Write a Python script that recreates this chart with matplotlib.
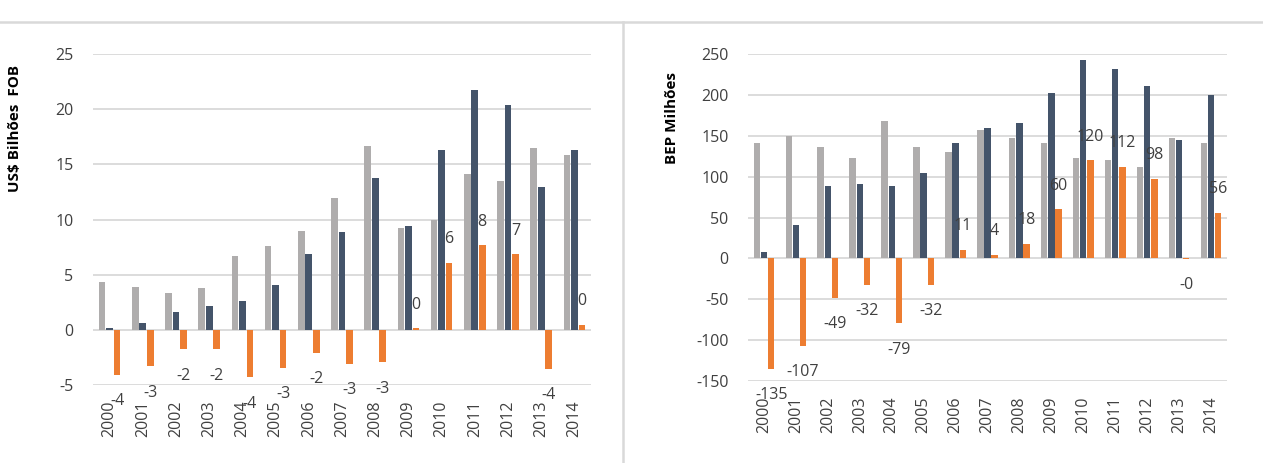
import matplotlib
matplotlib.use("Agg")
import matplotlib.pyplot as plt
from matplotlib.lines import Line2D
import numpy as np

plt.rcParams['font.family'] = ['Open Sans', 'DejaVu Sans']
plt.rcParams['axes.unicode_minus'] = False

years = [str(y) for y in range(2000, 2015)]

# Left panel (US$ Bilhões FOB)
left_gray = [4.3, 3.9, 3.3, 3.75, 6.65, 7.6, 9.0, 11.94, 16.65, 9.19, 9.98, 14.1, 13.5, 16.47, 15.87]
left_blue = [0.2, 0.65, 1.6, 2.2, 2.57, 4.1, 6.86, 8.86, 13.72, 9.4, 16.26, 21.77, 20.37, 12.94, 16.26]
left_orange = [-4.08, -3.3, -1.75, -1.75, -4.3, -3.45, -2.1, -3.08, -2.93, 0.15, 6.08, 7.65, 6.86, -3.55, 0.45]
left_yticks = [-5, 0, 5, 10, 15, 20, 25]
left_ylabel = "US$ Bilhões  FOB"

# Right panel (BEP Milhões)
right_gray = [140.8, 149.4, 136, 122.9, 168.2, 136, 130.6, 157.6, 147, 141, 123, 120, 112, 147, 141]
right_blue = [7.3, 41.2, 89, 91.4, 89, 104.5, 141, 160, 165.7, 202.4, 242.4, 231.4, 210.6, 144.5, 200]
right_orange = [-135.3, -106.6, -48.6, -32.3, -79.4, -32.4, 10.6, 4, 17.6, 60, 120.2, 112, 97.6, -0.3, 55.6]
right_yticks = [-150, -100, -50, 0, 50, 100, 150, 200, 250]
right_ylabel = "BEP Milhões"

GRAY = "#AFADAD"
BLUE = "#44546A"
ORANGE = "#ED7D31"
GRID = "#D9D9D9"
TXT = "#404040"

W, H = 1263, 463
fig = plt.figure(figsize=(W / 100, H / 100), dpi=100)


def px_axes(x0, x1, ytop, ybot):
    return fig.add_axes([x0 / W, (H - ybot) / H, (x1 - x0) / W, (ybot - ytop) / H])


def draw(ax, gray, blue, orange, yticks):
    x = np.arange(len(years))
    bw = 0.2
    off = 0.225
    ax.bar(x - off, gray, bw, color=GRAY, zorder=3)
    ax.bar(x, blue, bw, color=BLUE, zorder=3)
    ax.bar(x + off, orange, bw, color=ORANGE, zorder=3)
    for xi, v in zip(x, orange):
        dy = 17 if v >= 0 else -19
        ax.annotate(f"{v:.0f}", (xi + off, v), xytext=(0, dy), textcoords="offset points",
                    ha="center", va="center", fontsize=11.5, color=TXT, zorder=5)
    ax.set_xlim(-0.5, len(years) - 0.5)
    ax.set_ylim(yticks[0], yticks[-1])
    ax.set_yticks(yticks)
    ax.set_xticks(x)
    ax.set_xticklabels(years, rotation=90, fontsize=11.5, color=TXT)
    ax.tick_params(axis="y", labelsize=11.5, labelcolor=TXT, length=0, pad=14)
    ax.tick_params(axis="x", length=0, pad=11)
    ax.grid(axis="y", color=GRID, linewidth=1.3, zorder=0)
    for s in ax.spines.values():
        s.set_visible(False)


ax1 = px_axes(93, 591, 54, 385)
draw(ax1, left_gray, left_blue, left_orange, left_yticks)
ax2 = px_axes(748, 1227, 54, 381)
draw(ax2, right_gray, right_blue, right_orange, right_yticks)

fig.text(15 / W, 1 - 128 / H, left_ylabel, rotation=90, ha="center", va="center",
         fontsize=11, fontweight="bold", color="#000000")
fig.text(672 / W, 1 - 118 / H, right_ylabel, rotation=90, ha="center", va="center",
         fontsize=11, fontweight="bold", color="#000000")

fig.add_artist(Line2D([0, 1], [1 - 22 / H, 1 - 22 / H], transform=fig.transFigure,
                      color="#D9D9D9", linewidth=1.8))
fig.add_artist(Line2D([623 / W, 623 / W], [0, 1 - 22 / H], transform=fig.transFigure,
                      color="#D9D9D9", linewidth=1.8))

fig.savefig("out.png", dpi=100, facecolor="white")
